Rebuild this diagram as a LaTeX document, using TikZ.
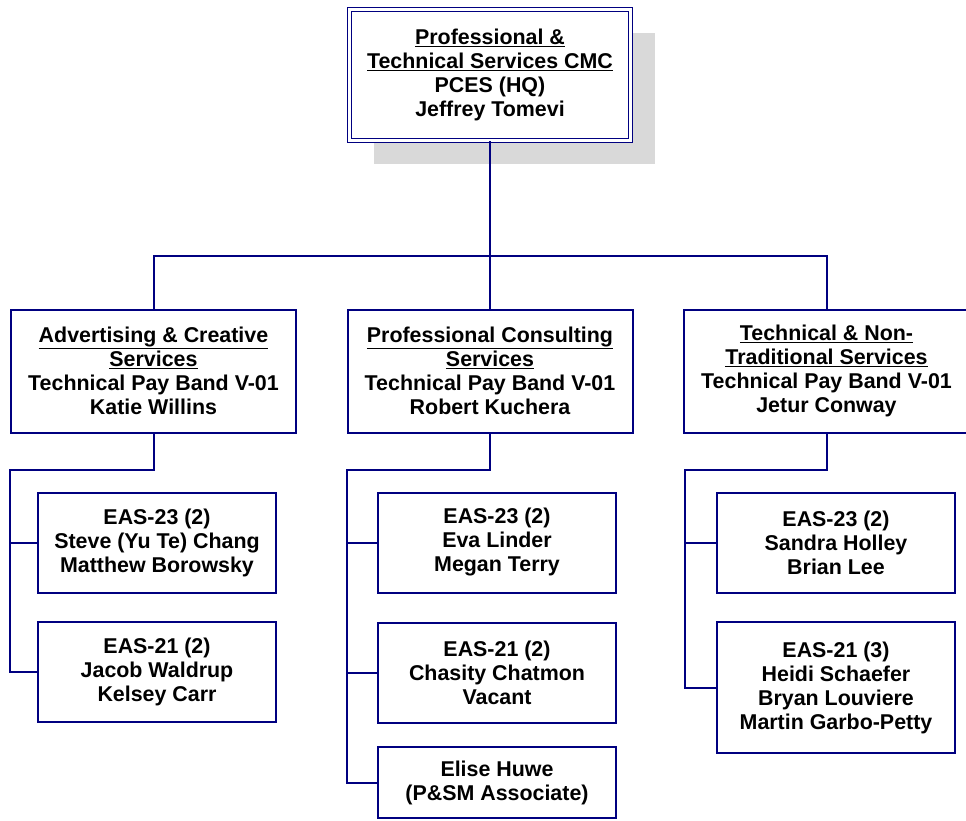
\documentclass[tikz,border=0pt]{standalone}
\usepackage{fontspec}
\setmainfont{Liberation Sans}
\usetikzlibrary{shadows}
\definecolor{navy}{RGB}{0,0,128}
\definecolor{shadegray}{RGB}{217,217,217}
\tikzset{
  box/.style={draw=navy, line width=2pt, fill=white, align=center, inner sep=2pt,
    font=\fontsize{21.4}{24}\selectfont\bfseries},
  headbox/.style={box, line width=1.8pt, double=white, double distance=2.2pt, minimum width=281pt,
    minimum height=131pt,
    drop shadow={fill=shadegray, opacity=1, shadow xshift=24pt, shadow yshift=-23pt}},
  unitbox/.style={box, minimum width=285pt, minimum height=123pt},
  staffbox/.style={box, minimum width=238pt, minimum height=100pt},
  link/.style={draw=navy, line width=2pt}
}
\begin{document}
\begin{tikzpicture}[x=1pt,y=-1pt]
\useasboundingbox (0,0) rectangle (966,820);
% head office
\node[headbox] (head) at (490,75) {\underline{Professional \&}\\\underline{Technical Services CMC}\\PCES (HQ)\\Jeffrey Tomevi};
% units
\node[unitbox] (advunit) at (153.5,371) {\underline{Advertising \& Creative}\\\underline{Services}\\Technical Pay Band V-01\\Katie Willins};
\node[unitbox] (conunit) at (490,371) {\underline{Professional Consulting}\\\underline{Services}\\Technical Pay Band V-01\\Robert Kuchera};
\node[unitbox] (tecunit) at (826.5,371) {\underline{Technical \& Non-}\\\underline{Traditional Services}\\Technical Pay Band V-01\\Jetur Conway};
% staff
\node[staffbox] (adv23) at (157,542.5) {EAS-23 (2)\\Steve (Yu Te) Chang\\Matthew Borowsky};
\node[staffbox] (adv21) at (157,671.5) {EAS-21 (2)\\Jacob Waldrup\\Kelsey Carr};
\node[staffbox] (con23) at (497,542.5) {EAS-23 (2)\\Eva Linder\\Megan Terry};
\node[staffbox] (con21) at (497,672.5) {EAS-21 (2)\\Chasity Chatmon\\Vacant};
\node[staffbox, minimum height=71pt] (conassoc) at (497,782.5) {Elise Huwe\\(P\&SM Associate)};
\node[staffbox] (tec23) at (836,543) {EAS-23 (2)\\Sandra Holley\\Brian Lee};
\node[staffbox, minimum height=131pt] (tec21) at (836,687.5) {EAS-21 (3)\\Heidi Schaefer\\Bryan Louviere\\Martin Garbo-Petty};
% connectors
\coordinate (hub) at (490,256);
\coordinate (advspine) at (10,470);
\coordinate (conspine) at (347,470);
\coordinate (tecspine) at (685,470);
\begin{scope}[on background layer/.try]
\draw[link] (head.south) -- (hub);
\draw[link] (hub) -| (advunit.north);
\draw[link] (hub) -| (tecunit.north);
\draw[link] (hub) -- (conunit.north);
\draw[link] (advunit.south) |- (advspine) |- (adv21.west);
\draw[link] (advspine) |- (adv23.west);
\draw[link] (conunit.south) |- (conspine) |- (conassoc.west);
\draw[link] (conspine) |- (con23.west);
\draw[link] (conspine) |- (con21.west);
\draw[link] (tecunit.south) |- (tecspine) |- (tec21.west);
\draw[link] (tecspine) |- (tec23.west);
\end{scope}
\end{tikzpicture}
\end{document}
